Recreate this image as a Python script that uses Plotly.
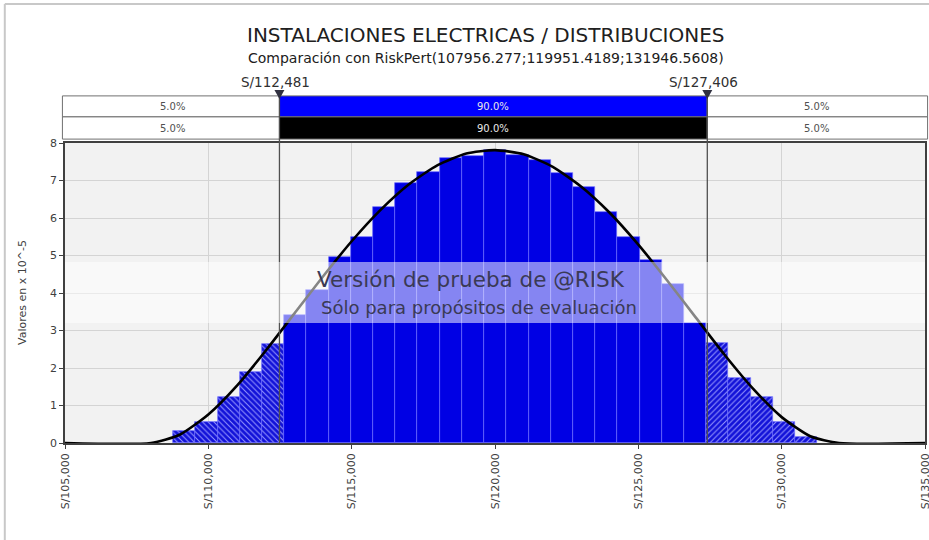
import plotly.graph_objects as go

# ---------------- data ----------------
title_text = "INSTALACIONES ELECTRICAS / DISTRIBUCIONES"
subtitle_text = "Comparación con RiskPert(107956.277;119951.4189;131946.5608)"

bin_start = 108770
bin_width = 775
bar_heights = [0.33, 0.57, 1.22, 1.90, 2.65, 3.41, 4.08, 4.97, 5.50, 6.30,
               6.94, 7.23, 7.59, 7.66, 7.81, 7.68, 7.55, 7.19, 6.84, 6.17,
               5.50, 4.88, 4.24, 3.19, 2.67, 1.73, 1.23, 0.57, 0.17]

curve_x = [105000, 108000, 109000, 110000, 111000, 112000, 113000, 114000,
           115000, 116000, 117000, 118000, 119000, 120000, 121000, 122000,
           123000, 124000, 125000, 126000, 127000, 128000, 129000, 130000,
           131000, 132000, 135000]
curve_y = [0.0, 0.0, 0.22, 0.76, 1.53, 2.46, 3.45, 4.44, 5.38, 6.21, 6.90,
           7.41, 7.72, 7.81, 7.70, 7.37, 6.84, 6.14, 5.29, 4.34, 3.35, 2.36,
           1.45, 0.69, 0.18, 0.0, 0.0]

delim_low = 112481
delim_high = 127406
delim_labels = ["S/112,481", "S/127,406"]
band_pcts = ["5.0%", "90.0%", "5.0%"]

x_min, x_max = 105000, 135000
x_ticks = [105000, 110000, 115000, 120000, 125000, 130000, 135000]
x_ticklabels = ["S/105,000", "S/110,000", "S/115,000", "S/120,000",
                "S/125,000", "S/130,000", "S/135,000"]
y_ticks = [0, 1, 2, 3, 4, 5, 6, 7, 8]

y_title = "Valores en x 10^-5"
wm_line1 = "Versión de prueba de @RISK"
wm_line2 = "Sólo para propósitos de evaluación"

# ---------------- figure ----------------
centers = [bin_start + bin_width * (i + 0.5) for i in range(len(bar_heights))]
left_x, left_y, mid_x, mid_y, right_x, right_y = [], [], [], [], [], []
for c, h in zip(centers, bar_heights):
    if c < delim_low:
        left_x.append(c); left_y.append(h)
    elif c > delim_high:
        right_x.append(c); right_y.append(h)
    else:
        mid_x.append(c); mid_y.append(h)


def xp(v):
    """data x -> paper x (axis spans the whole width of the plot area)"""
    return (v - x_min) / (x_max - x_min)


FONT = "DejaVu Sans"
fig = go.Figure()
bar_line = dict(color="#6A6AFF", width=0.7)
fig.add_trace(go.Bar(x=left_x, y=left_y, width=bin_width,
                     marker=dict(color="#1414E6", line=bar_line,
                                 pattern=dict(shape="\\", fgcolor="#9A9AFF", bgcolor="#1212D8",
                                              size=4, solidity=0.25, fillmode="replace")),
                     showlegend=False, hoverinfo="skip"))
fig.add_trace(go.Bar(x=mid_x, y=mid_y, width=bin_width,
                     marker=dict(color="#0000E4", line=bar_line),
                     showlegend=False, hoverinfo="skip"))
fig.add_trace(go.Bar(x=right_x, y=right_y, width=bin_width,
                     marker=dict(color="#1414E6", line=bar_line,
                                 pattern=dict(shape="/", fgcolor="#9A9AFF", bgcolor="#1212D8",
                                              size=4, solidity=0.25, fillmode="replace")),
                     showlegend=False, hoverinfo="skip"))
fig.add_trace(go.Scatter(x=curve_x, y=curve_y, mode="lines",
                         line=dict(color="#000000", width=2.6, shape="spline", smoothing=0.6),
                         showlegend=False, hoverinfo="skip", cliponaxis=False))

shapes = []
# delimiter lines and triangles
for d in (delim_low, delim_high):
    shapes.append(dict(type="line", xref="paper", yref="paper", x0=xp(d), x1=xp(d), y0=0, y1=1.16,
                       line=dict(color="#505050", width=1.3), layer="above"))
    xd = xp(d)
    shapes.append(dict(type="path", xref="paper", yref="paper",
                       path=f"M {xd - 0.0058} 1.177 L {xd + 0.0058} 1.177 L {xd} 1.147 Z",
                       fillcolor="#303040", line=dict(width=0), layer="above"))
# band rows
row_y = [(1.087, 1.157), (1.013, 1.087)]
mid_colors = ["#0000FF", "#000000"]
for r, (y0, y1) in enumerate(row_y):
    cells = [(-0.003, xp(delim_low), "white"), (xp(delim_low), xp(delim_high), mid_colors[r]),
             (xp(delim_high), 1.003, "white")]
    for (a, b, col) in cells:
        shapes.append(dict(type="rect", xref="paper", yref="paper", x0=a, x1=b, y0=y0, y1=y1,
                           fillcolor=col, line=dict(color="#707070", width=1), layer="below"))
# watermark band
shapes.append(dict(type="rect", xref="paper", yref="y", x0=0, x1=1, y0=3.2, y1=4.83,
                   fillcolor="rgba(255,255,255,0.52)", line=dict(width=0), layer="above"))
# outer frame (top and left)
shapes.append(dict(type="line", xref="paper", yref="paper", x0=-0.07, x1=1.01, y0=1.463, y1=1.463,
                   line=dict(color="#C8C8C8", width=2)))
shapes.append(dict(type="line", xref="paper", yref="paper", x0=-0.07, x1=-0.07, y0=-0.33, y1=1.463,
                   line=dict(color="#C8C8C8", width=2)))

C = dict(xanchor="center", yanchor="middle", showarrow=False)
annotations = []
for r, (y0, y1) in enumerate(row_y):
    xs = [(x_min + delim_low) / 2, (delim_low + delim_high) / 2, (delim_high + x_max) / 2]
    for i, (xc, pct) in enumerate(zip(xs, band_pcts)):
        annotations.append(dict(x=xp(xc), y=(y0 + y1) / 2, xref="paper", yref="paper", text=pct,
                                font=dict(family=FONT, size=10,
                                          color="#E8E8E8" if i == 1 else "#505050"), **C))
annotations.append(dict(x=xp(delim_low) - 0.005, y=1.203, xref="paper", yref="paper",
                        text=delim_labels[0], font=dict(family=FONT, size=13.5, color="#303030"), **C))
annotations.append(dict(x=xp(delim_high) - 0.005, y=1.203, xref="paper", yref="paper",
                        text=delim_labels[1], font=dict(family=FONT, size=13.5, color="#303030"), **C))
annotations.append(dict(x=0.49, y=1.36, xref="paper", yref="paper", text=title_text,
                        font=dict(family=FONT, size=20, color="#202020"), **C))
annotations.append(dict(x=0.49, y=1.283, xref="paper", yref="paper", text=subtitle_text,
                        font=dict(family=FONT, size=14, color="#202020"), **C))
annotations.append(dict(x=-0.05, y=0.5, xref="paper", yref="paper", text=y_title, textangle=-90,
                        font=dict(family=FONT, size=11, color="#404040"), **C))
annotations.append(dict(x=119160, y=4.35, xref="x", yref="y", text=wm_line1,
                        font=dict(family=FONT, size=21.5, color="#3A3A55"), **C))
annotations.append(dict(x=119440, y=3.62, xref="x", yref="y", text=wm_line2,
                        font=dict(family=FONT, size=18, color="#3A3A55"), **C))

fig.update_layout(
    width=929, height=540,
    margin=dict(l=65, r=4, t=143, b=97, autoexpand=False),
    paper_bgcolor="white", plot_bgcolor="#F2F2F2",
    bargap=0, barmode="overlay",
    shapes=shapes, annotations=annotations,
    font=dict(family=FONT),
)
fig.update_xaxes(range=[x_min, x_max], tickvals=x_ticks, ticktext=x_ticklabels,
                 tickangle=-90, tickfont=dict(size=11, color="#404040"), automargin=False,
                 ticklabeloverflow="allow",
                 showgrid=True, gridcolor="#D4D4D4", zeroline=False,
                 showline=True, linecolor="#404040", linewidth=1.5, mirror=True,
                 ticks="outside", ticklen=4, tickcolor="#404040")
fig.update_yaxes(range=[0, 8], tickvals=y_ticks, automargin=False,
                 tickfont=dict(size=11, color="#404040"),
                 showgrid=True, gridcolor="#D4D4D4", zeroline=False,
                 showline=True, linecolor="#404040", linewidth=1.5, mirror=True,
                 ticks="outside", ticklen=4, tickcolor="#404040")

fig.write_html("out.html", config={"displayModeBar": False},
               post_script="document.body.style.margin='0px';document.body.style.overflow='hidden';")
